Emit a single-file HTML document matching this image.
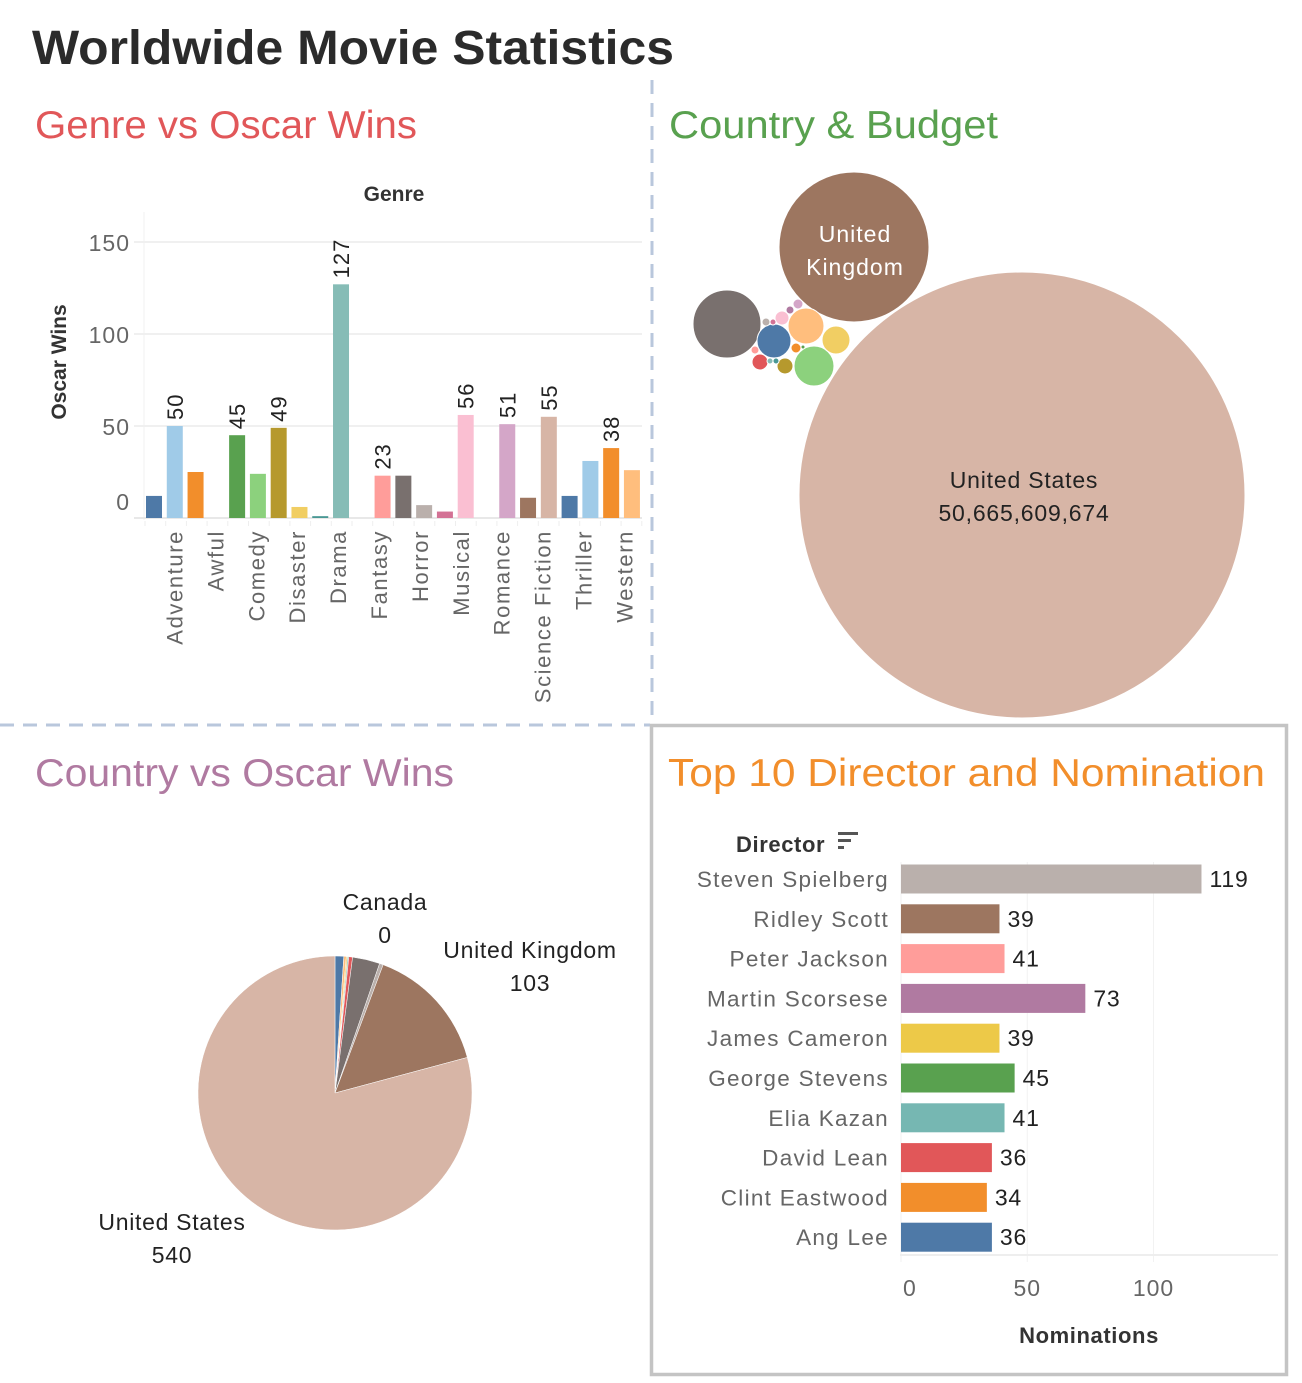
<!DOCTYPE html>
<html><head><meta charset="utf-8">
<style>
html,body{margin:0;padding:0;background:#fff;}
body{width:1302px;height:1378px;overflow:hidden;font-family:"Liberation Sans",sans-serif;}
svg text{font-family:"Liberation Sans",sans-serif;}
</style></head>
<body>
<svg id="root" width="1302" height="1378" viewBox="0 0 1302 1378" xmlns="http://www.w3.org/2000/svg">
  <text x="32" y="64" font-size="48" font-weight="bold" fill="#2b2b2b" textLength="642" lengthAdjust="spacingAndGlyphs">Worldwide Movie Statistics</text>
  <line x1="652" y1="80" x2="652" y2="722" stroke="#b9c7dc" stroke-width="3" stroke-dasharray="14,9"/>
  <line x1="0" y1="725" x2="650" y2="725" stroke="#b9c7dc" stroke-width="3" stroke-dasharray="14,9"/>
  <rect x="651.5" y="725.5" width="635" height="649" fill="none" stroke="#c4c4c4" stroke-width="3.5"/>

  <text x="35" y="138" font-size="39" fill="#e15759" textLength="382" lengthAdjust="spacingAndGlyphs">Genre vs Oscar Wins</text>
  <text x="669" y="138" font-size="39" fill="#59a14f" textLength="329" lengthAdjust="spacingAndGlyphs">Country &amp; Budget</text>
  <text x="35" y="786" font-size="39" fill="#b07aa1" textLength="419" lengthAdjust="spacingAndGlyphs">Country vs Oscar Wins</text>
  <text x="668" y="786" font-size="39" fill="#f28e2b" textLength="597" lengthAdjust="spacingAndGlyphs">Top 10 Director and Nomination</text>

  <g id="genre"></g>
  <g id="bubbles"></g>
  <g id="pie"></g>
  <g id="directors"></g>
</svg>
<script>
const NS='http://www.w3.org/2000/svg';
function mk(parent,tag,attrs,text){const e=document.createElementNS(NS,tag);for(const k in attrs)e.setAttribute(k,attrs[k]);if(text!==undefined)e.textContent=text;parent.appendChild(e);return e;}

/* ---------- Genre bar chart ---------- */
const genreSlotValues=[12,50,25,0,45,24,49,6,1,127,0,23,23,7,3.5,56,0,51,11,55,12,31,38,26];
const genreSlotColors=['#4e79a7','#a0cbe8','#f28e2b','#fff','#59a14f','#8cd17d','#b6992d','#f1ce63','#499894','#86bcb6','#fff','#ff9d9a','#79706e','#bab0ac','#d37295','#fabfd2','#fff','#d4a6c8','#9d7660','#d7b5a6','#4e79a7','#a0cbe8','#f28e2b','#ffbe7d'];
const genreSlotShowLabel=[0,1,0,0,1,0,1,0,0,1,0,1,0,0,0,1,0,1,0,1,0,0,1,0];
const genreNames=['Adventure','Awful','Comedy','Disaster','Drama','Fantasy','Horror','Musical','Romance','Science Fiction','Thriller','Western'];
const genreTicks=[0,50,100,150];
(function(){
  const g=document.getElementById('genre');
  const y=v=>518-v*1.84;
  const slotX=i=>146+i*20.78;
  const labelX=i=>175+i*40.9;
  mk(g,'line',{x1:144,y1:212,x2:144,y2:520,stroke:'#f0f0f0','stroke-width':1});
  genreTicks.forEach(t=>{
    const gl=mk(g,'line',{x1:134,y1:y(t),x2:642,y2:y(t),stroke:t===0?'#e8e8e8':'#f0f0f0','stroke-width':2});
    
    
    const tl=mk(g,'text',{x:130,y:t===0?510:y(t)+9,'text-anchor':'end','font-size':23,fill:'#666','letter-spacing':1},String(t));
    
    
  });
  const yt=mk(g,'text',{x:0,y:0,'font-size':21,'font-weight':'bold',fill:'#333','text-anchor':'middle',transform:'translate(66,362) rotate(-90)'},'Oscar Wins');
  
  
  const gt=mk(g,'text',{x:394,y:201,'font-size':21,'font-weight':'bold',fill:'#333','text-anchor':'middle'},'Genre');
  
  
  genreSlotValues.forEach((v,i)=>{
    if(v<=0)return;
    const r=mk(g,'rect',{x:slotX(i),y:y(v),width:16,height:518-y(v),fill:genreSlotColors[i]});
    
    
    if(genreSlotShowLabel[i]){
      const l=mk(g,'text',{x:0,y:0,'font-size':22,fill:'#222','letter-spacing':1,transform:`translate(${slotX(i)+8+8},${y(v)-6}) rotate(-90)`},String(v));
      
      
    }
  });
  for(let i=0;i<=24;i++){mk(g,'line',{x1:145+i*20.7,y1:521,x2:145+i*20.7,y2:526,stroke:'#eee','stroke-width':1});}
  genreNames.forEach((n,i)=>{
    const t=mk(g,'text',{x:0,y:0,'font-size':22,fill:'#666','letter-spacing':1.6,'text-anchor':'end','dominant-baseline':'central',transform:`translate(${labelX(i)},530) rotate(-90)`},n);
    
    
  });
})();

/* ---------- Bubble chart ---------- */
const bubbleColors=['#d7b5a6','#9d7660','#79706e','#4e79a7','#8cd17d','#ffbe7d','#f1ce63','#e15759','#b6992d','#fabfd2','#f28e2b','#d4a6c8','#b07aa1','#bab0ac','#d37295','#ff9d9a','#86bcb6','#499894','#59a14f'];
const bubbleRadii=[223,75,34,17,20,18,14,8,8,7,5,5,4,4,3,4,3,3,2];
const bubbleCx=[1022,854,727,774,814,806,836,760,785,782,796,798,790,766,773,755,770,776,803];
const bubbleCy=[495,247,324,341,366,326,340,362,366,318,348,304,310,322,322,350,361,361,347];
(function(){
  const g=document.getElementById('bubbles');
  bubbleRadii.forEach((r,i)=>{
    const c=mk(g,'circle',{cx:bubbleCx[i],cy:bubbleCy[i],r:r,fill:bubbleColors[i],stroke:'#fff','stroke-width':1});
    
    
  });
  const t1=mk(g,'text',{x:855,y:242,'font-size':23,fill:'#fff','text-anchor':'middle','letter-spacing':1},'United');
  
  
  const t2=mk(g,'text',{x:855,y:275,'font-size':23,fill:'#fff','text-anchor':'middle','letter-spacing':1},'Kingdom');
  
  
  const t3=mk(g,'text',{x:1024,y:488,'font-size':23,fill:'#222','text-anchor':'middle','letter-spacing':0.8},'United States');
  
  
  const t4=mk(g,'text',{x:1024,y:521,'font-size':23,fill:'#222','text-anchor':'middle','letter-spacing':0.8},'50,665,609,674');
  
  
})();

/* ---------- Pie chart ---------- */
const pieValues=[7,2,1,1,3,22,3,103,540];
const pieColors=['#4e79a7','#ffbe7d','#f1ce63','#86bcb6','#e15759','#79706e','#bab0ac','#9d7660','#d7b5a6'];
(function(){
  const g=document.getElementById('pie');
  const cx=335,cy=1093,R=137;
  const total=pieValues.reduce((a,b)=>a+b,0);
  let a0=0;
  pieValues.forEach((v,i)=>{
    const a1=a0+v/total*2*Math.PI;
    const p=(a)=>[cx+R*Math.sin(a),cy-R*Math.cos(a)];
    const [x0,y0]=p(a0),[x1,y1]=p(a1);
    const d=`M${cx},${cy} L${x0},${y0} A${R},${R} 0 ${a1-a0>Math.PI?1:0} 1 ${x1},${y1} Z`;
    const s=mk(g,'path',{d:d,fill:pieColors[i],stroke:'#fff','stroke-width':0.5});
    
    
    a0=a1;
  });
  const labs=[['Canada',385,910],['0',385,943],['United Kingdom',530,958],['103',530,991],['United States',172,1230],['540',172,1263]];
  labs.forEach(l=>{
    const t=mk(g,'text',{x:l[1],y:l[2],'font-size':23,fill:'#222','text-anchor':'middle','letter-spacing':0.7},l[0]);
    
    
  });
})();

/* ---------- Director bar chart ---------- */
const directorNames=['Steven Spielberg','Ridley Scott','Peter Jackson','Martin Scorsese','James Cameron','George Stevens','Elia Kazan','David Lean','Clint Eastwood','Ang Lee'];
const directorNominations=[119,39,41,73,39,45,41,36,34,36];
const directorColors=['#bab0ac','#9d7660','#ff9d9a','#b07aa1','#edc948','#59a14f','#76b7b2','#e15759','#f28e2b','#4e79a7'];
const nominationTicks=[0,50,100];
(function(){
  const g=document.getElementById('directors');
  const x=v=>901+v*2.525;
  const rowY=i=>879+i*39.8;
  nominationTicks.forEach((t,i)=>{
    const gl=mk(g,'line',{x1:x(t),y1:862,x2:x(t),y2:1262,stroke:'#f2f2f2','stroke-width':1});
    
    
    const tl=mk(g,'text',{x:i===0?x(t)+2:x(t),y:1296,'font-size':23,fill:'#666','letter-spacing':1,'text-anchor':i===0?'start':'middle'},String(t));
    
    
  });
  mk(g,'line',{x1:900,y1:1255,x2:1278,y2:1255,stroke:'#eee','stroke-width':2});
  directorNominations.forEach((v,i)=>{
    const r=mk(g,'rect',{x:x(0),y:rowY(i)-14.5,width:x(v)-x(0),height:29,fill:directorColors[i]});
    
    
    const vl=mk(g,'text',{x:x(v)+8,y:rowY(i)+8,'font-size':23,fill:'#222','letter-spacing':0.8},String(v));
    
    
    const nl=mk(g,'text',{x:889,y:rowY(i)+8,'font-size':22.5,fill:'#666','letter-spacing':1.3,'text-anchor':'end'},directorNames[i]);
    
    
  });
  const h=mk(g,'text',{x:736,y:852,'font-size':22,'font-weight':'bold',fill:'#333','letter-spacing':0.6},'Director');
  
  
  const si=mk(g,'g',{});
  
  
  mk(si,'rect',{x:838,y:832,width:20,height:3,fill:'#555'});
  mk(si,'rect',{x:838,y:839,width:13,height:3,fill:'#555'});
  mk(si,'rect',{x:838,y:846,width:6,height:3,fill:'#555'});
  const xt=mk(g,'text',{x:1089,y:1343,'font-size':22,'font-weight':'bold',fill:'#333','text-anchor':'middle','letter-spacing':0.6},'Nominations');
  
  
})();
</script>
</body></html>
